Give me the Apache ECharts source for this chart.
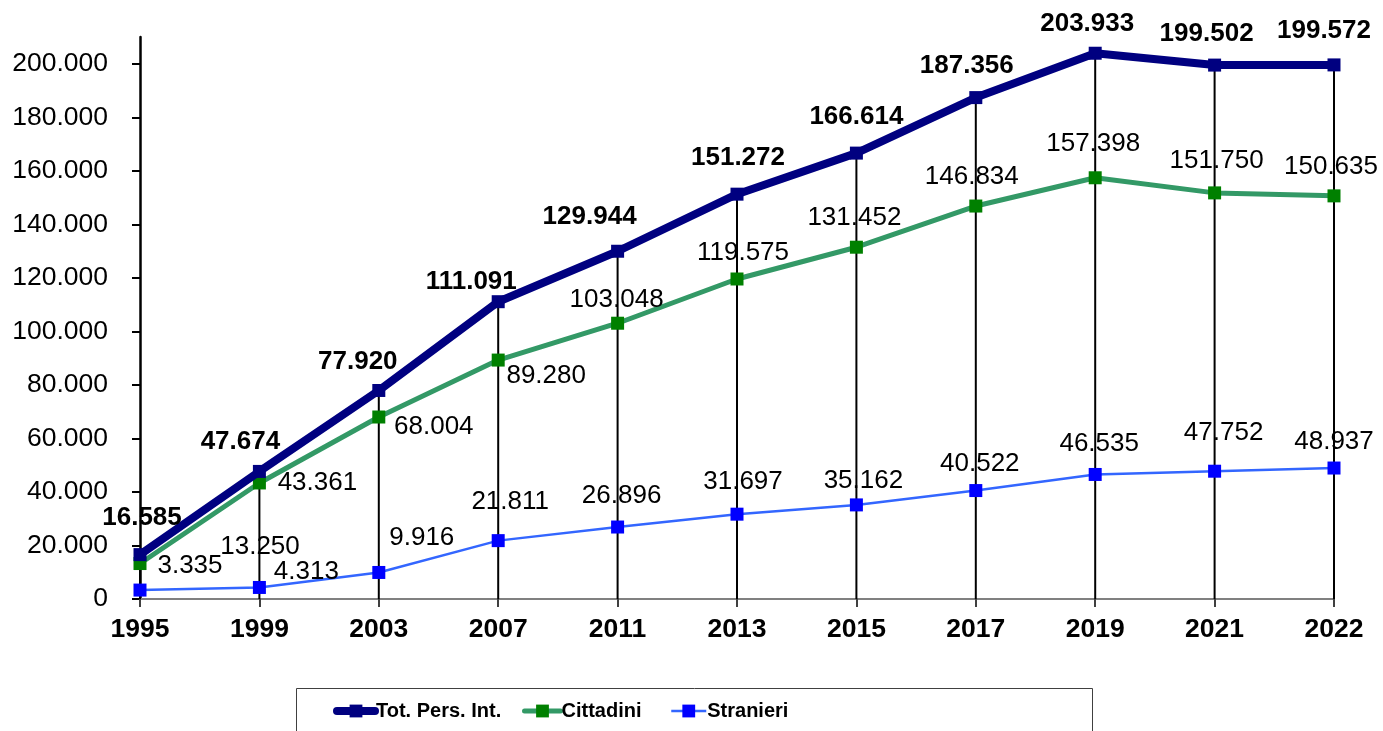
<!DOCTYPE html>
<html>
<head>
<meta charset="utf-8">
<script src="https://cdn.jsdelivr.net/npm/echarts@6/dist/echarts.min.js"></script>
<style>
html,body{margin:0;padding:0;background:#fff;}
#chart{width:1383px;height:731px;}
</style>
</head>
<body>
<div id="chart"></div>
<script>
// ---- data ----
const years = ['1995','1999','2003','2007','2011','2013','2015','2017','2019','2021','2022'];
const tot = [16585,47674,77920,111091,129944,151272,166614,187356,203933,199502,199572];
const cittadini = [13250,43361,68004,89280,103048,119575,131452,146834,157398,151750,150635];
const stranieri = [3335,4313,9916,21811,26896,31697,35162,40522,46535,47752,48937];
const yTicks = [0,20000,40000,60000,80000,100000,120000,140000,160000,180000,200000];
const seriesNames = ['Tot. Pers. Int.','Cittadini','Stranieri'];

// ---- label placement (style, px offsets from marker centre) ----
const totOff = [[2,-37],[-19,-30],[-21,-29],[-27,-20],[-28,-34],[1,-36],[0,-36],[-9,-32],[-8,-29],[-8,-31],[-10,-34]];
const citOff = [[120,-17],[58,0],[55,10],[48,16],[-1,-23],[6,-26],[-2,-29],[-4,-29],[-2,-34],[2,-32],[-3,-29]];
const strOff = [[50,-24],[47,-16],[43,-35],[12,-39],[4,-31],[6,-32],[7,-24],[4,-27],[4,-31],[9,-38],[0,-26]];

const FONT = 'Liberation Sans, Arial, sans-serif';
function fmt(v){ return String(v).replace(/\B(?=(\d{3})+(?!\d))/g,'.'); }
function withLabels(vals, offs, bold){
  return vals.map((v,i)=>({
    value: v,
    label: {
      show: true, position: 'inside', offset: offs[i],
      align: 'center', verticalAlign: 'middle',
      formatter: p => fmt(p.value),
      fontFamily: FONT, fontSize: 26, fontWeight: bold ? 'bold' : 'normal', color: '#000'
    }
  }));
}

const chart = echarts.init(document.getElementById('chart'), null, {renderer:'canvas'});
const legendText = {fontFamily:FONT, fontSize:20, fontWeight:'bold', color:'#000', padding:[0,0,0,-4]};
const legendBase = {top:701, padding:0, itemHeight:16, itemGap:0, textStyle:legendText};
chart.setOption({
  animation: false,
  backgroundColor: '#fff',
  grid: {left:140, right:49, top:37, bottom:132, containLabel:false},
  xAxis: {
    type: 'category', data: years, boundaryGap: false,
    axisLine: {lineStyle:{color:'#808080', width:2}},
    axisTick: {show:true, length:8, lineStyle:{color:'#404040', width:2}},
    axisLabel: {fontFamily:FONT, fontSize:26.5, fontWeight:'bold', color:'#000', margin:17},
    splitLine: {show:false}
  },
  yAxis: {
    type: 'value', min: 0, max: 210000, interval: 20000,
    axisLine: {show:true, lineStyle:{color:'#000', width:2.5}},
    axisTick: {show:true, length:8, customValues: yTicks, lineStyle:{color:'#000', width:2}},
    axisLabel: {customValues: yTicks, fontFamily:FONT, fontSize:26.5, color:'#000', margin:32, formatter: v => fmt(v)},
    splitLine: {show:false}
  },
  legend: [
    Object.assign({data:[seriesNames[0]], left:333, itemWidth:38, lineStyle:{width:8, cap:'round'}}, legendBase),
    Object.assign({data:[seriesNames[1]], left:522, itemWidth:36, lineStyle:{width:5, cap:'round'}}, legendBase),
    Object.assign({data:[seriesNames[2]], left:670, itemWidth:35, lineStyle:{width:2.5}}, legendBase)
  ],
  graphic: [{
    type:'rect', left:294, top:686, silent:true, z:-1,
    shape:{x:0,y:0,width:796,height:60},
    style:{fill:'none', stroke:'#404040', lineWidth:1}
  }],
  series: [
    {
      name:'drop', type:'bar', data: tot, barWidth:2, silent:true, z:1,
      itemStyle:{color:'#000'}, legendHoverLink:false
    },
    {
      name: seriesNames[2], type:'line', data: withLabels(stranieri, strOff, false), z:3,
      symbol:'rect', symbolSize:13,
      lineStyle:{color:'#3366FF', width:2.5}, itemStyle:{color:'#0000FF'}
    },
    {
      name: seriesNames[1], type:'line', data: withLabels(cittadini, citOff, false), z:4,
      symbol:'rect', symbolSize:13,
      lineStyle:{color:'#339966', width:5}, itemStyle:{color:'#008000'}
    },
    {
      name: seriesNames[0], type:'line', data: withLabels(tot, totOff, true), z:5,
      symbol:'rect', symbolSize:13,
      lineStyle:{color:'#000080', width:8}, itemStyle:{color:'#000080'}
    }
  ]
});
</script>
</body>
</html>
